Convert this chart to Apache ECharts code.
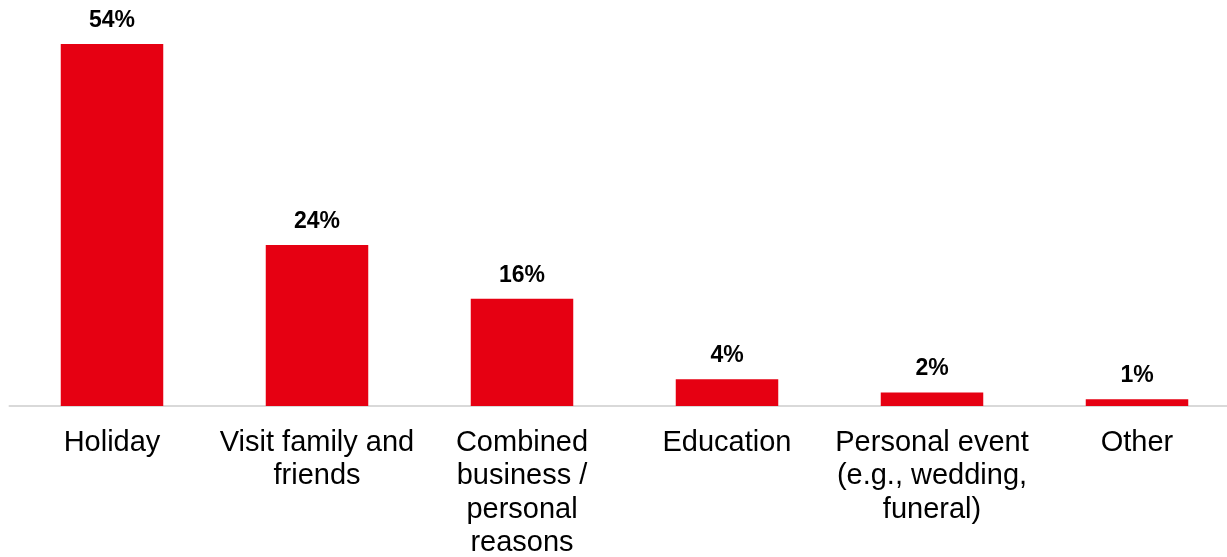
<!DOCTYPE html>
<html>
<head>
<meta charset="utf-8">
<script src="https://cdn.jsdelivr.net/npm/echarts@6/dist/echarts.min.js"></script>
<style>
  html, body { margin: 0; padding: 0; background: #ffffff; }
  #chart { width: 1227px; height: 557px; }
</style>
</head>
<body>
<div id="chart"></div>
<script>
// Reasons for travel, share of respondents (%)
const categories = [
  'Holiday',
  'Visit family and\nfriends',
  'Combined\nbusiness /\npersonal\nreasons',
  'Education',
  'Personal event\n(e.g., wedding,\nfuneral)',
  'Other'
];
const shares = [54, 24, 16, 4, 2, 1];

const chart = echarts.init(document.getElementById('chart'), null, { renderer: 'canvas' });

chart.setOption({
  animation: false,
  backgroundColor: '#ffffff',
  grid: {
    left: 9.5,
    right: -12.5,
    top: 3.8,
    bottom: 151,
    containLabel: false,
    outerBoundsMode: 'none'
  },
  xAxis: {
    type: 'category',
    data: categories,
    axisLine: { show: true, lineStyle: { color: '#d9d9d9', width: 2 } },
    axisTick: { show: false },
    axisLabel: {
      interval: 0,
      margin: 20,
      color: '#000000',
      fontFamily: 'Liberation Sans, Arial, sans-serif',
      fontSize: 29,
      lineHeight: 33.5,
      align: 'center'
    }
  },
  yAxis: {
    type: 'value',
    min: 0,
    max: 60,
    show: false,
    splitLine: { show: false }
  },
  series: [{
    type: 'bar',
    data: shares,
    barWidth: '50%',
    itemStyle: { color: '#e60012' },
    label: {
      show: true,
      position: 'top',
      distance: 12,
      formatter: '{c}%',
      color: '#000000',
      fontFamily: 'Liberation Sans, Arial, sans-serif',
      fontWeight: 'bold',
      fontSize: 23
    }
  }]
});
</script>
</body>
</html>
